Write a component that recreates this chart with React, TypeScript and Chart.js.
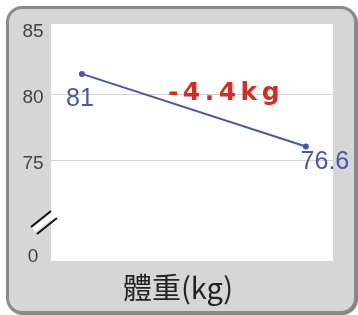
import React, { useEffect, useRef } from "react";
import { Chart, registerables } from "chart.js";

Chart.register(...registerables);

// ---- data ----
const positions = [0, 1];
const plottedWeights = [81.6, 76.1];
const weightLabels = [81, 76.6];
const yTicks = [68, 75, 80, 85];
const yTickLabels: Record<number, string> = { 68: "0", 75: "75", 80: "80", 85: "85" };
const gridValues = [75, 80];
const titleText = "體重(kg)";

const BLUE = "#4a57a8";
const RED = "#cf2f25";

const overlayPlugin = {
  id: "overlay",
  beforeDraw(chart: any) {
    const { ctx, chartArea } = chart;
    ctx.save();
    ctx.fillStyle = "#ffffff";
    ctx.fillRect(chartArea.left, chartArea.top, chartArea.right - chartArea.left, chartArea.bottom - chartArea.top);
    ctx.restore();
  },
  afterDraw(chart: any) {
    const { ctx, chartArea } = chart;
    const xs = chart.scales.x;
    const ys = chart.scales.y;
    const meta = chart.getDatasetMeta(0);
    const pts = meta.data;
    ctx.save();
    // y tick labels
    ctx.fillStyle = "#444444";
    ctx.font = "19px 'Liberation Sans', Arial, sans-serif";
    ctx.textAlign = "center";
    ctx.textBaseline = "middle";
    ys.ticks.forEach((t: any) => {
      const label = yTickLabels[t.value];
      if (label) ctx.fillText(label, 33, ys.getPixelForValue(t.value) + 3);
    });
    // point labels
    ctx.fillStyle = BLUE;
    ctx.font = "25px 'Liberation Sans', Arial, sans-serif";
    ctx.textAlign = "center";
    ctx.textBaseline = "alphabetic";
    const offs = [
      [-2, 32],
      [19, 23],
    ];
    pts.forEach((p: any, i: number) => {
      ctx.fillText(String(weightLabels[i]), p.x + offs[i][0], p.y + offs[i][1]);
    });
    // difference annotation
    const diff = (weightLabels[1] - weightLabels[0]).toFixed(1) + "kg";
    ctx.fillStyle = RED;
    ctx.font = "bold 25px 'DejaVu Sans', sans-serif";
    (ctx as any).letterSpacing = "4.5px";
    ctx.textAlign = "center";
    ctx.fillText(diff, xs.getPixelForValue(0.63) + 3, ys.getPixelForValue(79.65));
    (ctx as any).letterSpacing = "0px";
    // title
    ctx.fillStyle = "#222222";
    ctx.font = "29px 'Noto Sans CJK TC', sans-serif";
    ctx.textAlign = "center";
    ctx.textBaseline = "middle";
    ctx.fillText(titleText, 178, chartArea.bottom + 27);
    // axis break marks
    const bx = 42, by = 223;
    ctx.lineCap = "butt";
    ctx.strokeStyle = "#ffffff";
    ctx.lineWidth = 5;
    ctx.beginPath();
    ctx.moveTo(bx - 8, by + 7);
    ctx.lineTo(bx + 12, by - 9);
    ctx.stroke();
    ctx.strokeStyle = "#111111";
    ctx.lineWidth = 2;
    ctx.beginPath();
    ctx.moveTo(bx - 11, by + 4);
    ctx.lineTo(bx + 9, by - 12);
    ctx.moveTo(bx - 5, by + 11);
    ctx.lineTo(bx + 15, by - 5);
    ctx.stroke();
    ctx.restore();
  },
};

export default function App() {
  const ref = useRef<HTMLCanvasElement | null>(null);
  useEffect(() => {
    if (!ref.current) return;
    const chart = new Chart(ref.current, {
      type: "line",
      data: {
        datasets: [
          {
            data: positions.map((x, i) => ({ x, y: plottedWeights[i] })),
            borderColor: BLUE,
            backgroundColor: BLUE,
            borderWidth: 2,
            pointRadius: 3,
            pointBackgroundColor: BLUE,
            pointBorderWidth: 0,
            tension: 0,
          },
        ],
      },
      options: {
        animation: false,
        responsive: false,
        maintainAspectRatio: false,
        layout: { padding: { left: 0, top: 24, right: 25, bottom: 54 } },
        plugins: {
          legend: { display: false },
          tooltip: { enabled: false },
          title: { display: false },
        },
        scales: {
          x: {
            type: "linear",
            display: false,
            min: -0.138,
            max: 1.121,
          },
          y: {
            type: "linear",
            min: 67.42,
            max: 85.38,
            afterBuildTicks: (scale: any) => {
              scale.ticks = yTicks.map((v) => ({ value: v }));
            },
            afterFit: (scale: any) => {
              scale.width = 51;
            },
            border: { display: false },
            grid: {
              drawTicks: false,
              color: (c: any) => (gridValues.includes(c.tick?.value) ? "#d2d2d2" : "rgba(0,0,0,0)"),
              lineWidth: 1,
            },
            ticks: {
              display: false,
            },
          },
        },
      },
      plugins: [overlayPlugin],
    });
    return () => chart.destroy();
  }, []);

  return (
    <div style={{ position: "absolute", left: 0, top: 0, width: 358, height: 315, background: "#ffffff" }}>
      <div
        style={{
          position: "absolute",
          left: 6,
          top: 6,
          width: 345,
          height: 302,
          border: "3px solid #8a8a8a",
          borderRadius: 16,
          background: "#d6d6d6",
          boxShadow: "1px 1px 1px #777",
        }}
      />
      <canvas ref={ref} width={358} height={315} style={{ position: "absolute", left: 0, top: 0, width: 358, height: 315 }} />
    </div>
  );
}
